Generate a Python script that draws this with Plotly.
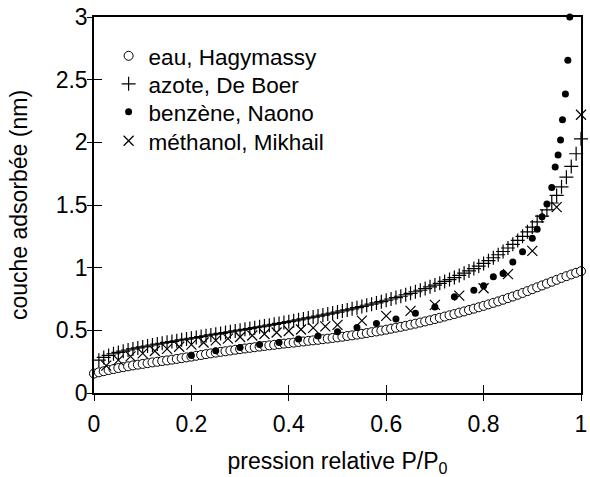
import plotly.graph_objects as go

# ---- data ----
eau_x = [round(i * 0.01, 2) for i in range(0, 101)]
eau_y = [0.155, 0.165, 0.174, 0.183, 0.191, 0.199, 0.206, 0.213, 0.220, 0.226,
         0.232, 0.238, 0.244, 0.249, 0.255, 0.260, 0.266, 0.272, 0.278, 0.284,
         0.290, 0.297, 0.303, 0.310, 0.316, 0.322, 0.328, 0.333, 0.339, 0.345,
         0.350, 0.355, 0.360, 0.365, 0.370, 0.375, 0.380, 0.384, 0.389, 0.394,
         0.398, 0.402, 0.407, 0.411, 0.416, 0.420, 0.424, 0.429, 0.434, 0.439,
         0.444, 0.449, 0.455, 0.460, 0.466, 0.472, 0.478, 0.485, 0.491, 0.498,
         0.505, 0.513, 0.521, 0.528, 0.536, 0.545, 0.553, 0.562, 0.571, 0.580,
         0.590, 0.600, 0.610, 0.620, 0.630, 0.641, 0.651, 0.662, 0.673, 0.684,
         0.695, 0.707, 0.719, 0.731, 0.744, 0.757, 0.770, 0.784, 0.798, 0.813,
         0.828, 0.843, 0.858, 0.873, 0.888, 0.903, 0.918, 0.932, 0.946, 0.959,
         0.972]

azote_x = [round(i * 0.01, 2) for i in range(1, 101)]
azote_y = [0.262, 0.284, 0.300, 0.313, 0.324, 0.334, 0.343, 0.352, 0.360, 0.368,
           0.375, 0.383, 0.390, 0.397, 0.404, 0.411, 0.417, 0.424, 0.430, 0.437,
           0.443, 0.450, 0.456, 0.463, 0.469, 0.475, 0.482, 0.488, 0.495, 0.501,
           0.508, 0.514, 0.521, 0.528, 0.534, 0.541, 0.548, 0.555, 0.562, 0.569,
           0.576, 0.584, 0.591, 0.599, 0.606, 0.614, 0.622, 0.630, 0.638, 0.646,
           0.655, 0.663, 0.672, 0.681, 0.690, 0.700, 0.709, 0.719, 0.729, 0.740,
           0.750, 0.761, 0.772, 0.784, 0.795, 0.808, 0.820, 0.833, 0.847, 0.861,
           0.875, 0.890, 0.905, 0.921, 0.938, 0.956, 0.974, 0.993, 1.013, 1.034,
           1.056, 1.079, 1.103, 1.129, 1.157, 1.186, 1.217, 1.250, 1.286, 1.324,
           1.366, 1.412, 1.461, 1.516, 1.576, 1.645, 1.722, 1.808, 1.909, 2.028]

benzene_x = [0.20, 0.25, 0.30, 0.34, 0.38, 0.42, 0.46, 0.50, 0.54, 0.58,
             0.62, 0.66, 0.70, 0.74, 0.78, 0.80, 0.82, 0.84, 0.86, 0.88,
             0.90, 0.91, 0.92, 0.93, 0.94, 0.947, 0.953, 0.958, 0.962, 0.968,
             0.973, 0.977]
benzene_y = [0.300, 0.338, 0.363, 0.387, 0.403, 0.431, 0.455, 0.488, 0.522, 0.555,
             0.591, 0.637, 0.687, 0.767, 0.819, 0.855, 0.927, 0.953, 1.046, 1.126,
             1.234, 1.307, 1.406, 1.508, 1.639, 1.803, 1.899, 2.018, 2.180, 2.386,
             2.654, 3.000]

methanol_x = [0.025, 0.05, 0.075, 0.10, 0.125, 0.15, 0.175, 0.20, 0.225, 0.25,
              0.275, 0.30, 0.325, 0.35, 0.375, 0.40, 0.425, 0.45, 0.475, 0.50,
              0.55, 0.60, 0.65, 0.70, 0.75, 0.80, 0.85, 0.90, 0.95, 1.00]
methanol_y = [0.218, 0.262, 0.292, 0.316, 0.335, 0.352, 0.369, 0.386, 0.403, 0.420,
              0.434, 0.447, 0.459, 0.471, 0.483, 0.495, 0.507, 0.519, 0.531, 0.543,
              0.577, 0.615, 0.655, 0.703, 0.777, 0.836, 0.948, 1.134, 1.483, 2.220]

x_ticks = [0, 0.2, 0.4, 0.6, 0.8, 1]
x_labels = ["0", "0.2", "0.4", "0.6", "0.8", "1"]
y_ticks = [0, 0.5, 1, 1.5, 2, 2.5, 3]
y_labels = ["0", "0.5", "1", "1.5", "2", "2.5", "3"]

FONT = "Arial, Liberation Sans, sans-serif"
FS = 23
LFS = 22.5

fig = go.Figure()
fig.add_trace(go.Scatter(x=eau_x, y=eau_y, mode="markers", name="eau, Hagymassy",
                         legend="legend", cliponaxis=False,
                         marker=dict(symbol="circle", size=9, color="white",
                                     line=dict(color="black", width=1))))
fig.add_trace(go.Scatter(x=azote_x, y=azote_y, mode="markers", name="azote, De Boer",
                         legend="legend2", cliponaxis=False,
                         marker=dict(symbol="cross-thin", size=10, color="black",
                                     line=dict(color="black", width=1.2))))
fig.add_trace(go.Scatter(x=benzene_x, y=benzene_y, mode="markers", name="benzène, Naono",
                         legend="legend3", cliponaxis=False,
                         marker=dict(symbol="circle", size=7, color="black",
                                     line=dict(width=0))))
fig.add_trace(go.Scatter(x=methanol_x, y=methanol_y, mode="markers", name="méthanol, Mikhail",
                         legend="legend4", cliponaxis=False,
                         marker=dict(symbol="x-thin", size=10, color="black",
                                     line=dict(color="black", width=1.2))))
# helper trace so the overlay axes (outer half of the crossing ticks) are drawn
fig.add_trace(go.Scatter(x=[0], y=[0], xaxis="x2", yaxis="y2", showlegend=False,
                         mode="markers", marker=dict(size=1, opacity=0),
                         hoverinfo="skip"))


def leg(ytop):
    return dict(x=0.03, y=ytop, xanchor="left", yanchor="top",
                bgcolor="rgba(0,0,0,0)", borderwidth=0,
                font=dict(family=FONT, size=LFS, color="black"),
                itemwidth=30, tracegroupgap=0)


fig.update_layout(
    width=590, height=477,
    margin=dict(l=94, r=9, t=17, b=84, autoexpand=False),
    paper_bgcolor="white", plot_bgcolor="white",
    font=dict(family=FONT, size=FS, color="black"),
    xaxis=dict(range=[0, 1], tickvals=x_ticks, ticktext=x_labels,
               ticks="outside", ticklen=6, tickwidth=1.3, tickcolor="black",
               showline=True, linecolor="black", linewidth=1.5, mirror=True,
               showgrid=False, zeroline=False, automargin=False,
               ticklabelstandoff=4,
               tickfont=dict(family=FONT, size=FS, color="black"),
               title=dict(text="pression relative P/P<sub>0</sub>",
                          font=dict(family=FONT, size=FS), standoff=18)),
    yaxis=dict(range=[0, 3], tickvals=y_ticks, ticktext=y_labels,
               ticks="inside", ticklen=8, tickwidth=1.3, tickcolor="black",
               showline=True, linecolor="black", linewidth=1.5, mirror=True,
               showgrid=False, zeroline=False, automargin=False,
               ticklabelstandoff=0,
               tickfont=dict(family=FONT, size=FS, color="black"),
               title=dict(text="couche adsorbée (nm)",
                          font=dict(family=FONT, size=FS), standoff=22)),
    xaxis2=dict(range=[0, 1], overlaying="x", anchor="y2", side="bottom",
                tickvals=x_ticks, ticks="inside", ticklen=8, tickwidth=1.3,
                tickcolor="black", showticklabels=False,
                showline=True, linecolor="black", linewidth=1.5, mirror=True,
                showgrid=False, zeroline=False, automargin=False),
    yaxis2=dict(range=[0, 3], overlaying="y", anchor="x2", side="left",
                tickvals=y_ticks, ticks="outside", ticklen=5, tickwidth=1.3,
                tickcolor="black", showticklabels=False,
                showline=True, linecolor="black", linewidth=1.5, mirror=True,
                showgrid=False, zeroline=False, automargin=False),
    legend=leg(0.953),
    legend2=leg(0.8785),
    legend3=leg(0.804),
    legend4=leg(0.727),
    showlegend=True,
)

fig.write_html("out.html",
               config={"displayModeBar": False},
               post_script="document.body.style.margin='0';"
                           "document.body.style.overflow='hidden';")
